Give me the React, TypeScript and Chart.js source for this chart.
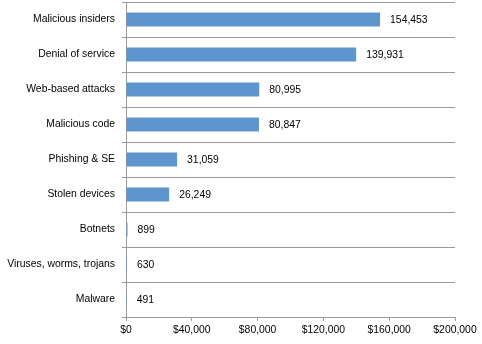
import React, { useEffect, useRef } from "react";
import { Chart, registerables } from "chart.js";

Chart.register(...registerables);

const categories = [
  "Malicious insiders",
  "Denial of service",
  "Web-based attacks",
  "Malicious code",
  "Phishing & SE",
  "Stolen devices",
  "Botnets",
  "Viruses, worms, trojans",
  "Malware",
];
const values = [154453, 139931, 80995, 80847, 31059, 26249, 899, 630, 491];
const xTicks = [0, 40000, 80000, 120000, 160000, 200000];

const FONT_FAMILY = "'Liberation Sans', Arial, sans-serif";
const FONT_SIZE = 10.4;

const valueLabels = {
  id: "valueLabels",
  afterDatasetsDraw(chart: any) {
    const ctx = chart.ctx;
    const meta = chart.getDatasetMeta(0);
    ctx.save();
    ctx.font = `${FONT_SIZE}px ${FONT_FAMILY}`;
    ctx.fillStyle = "#000000";
    ctx.textAlign = "left";
    ctx.textBaseline = "middle";
    meta.data.forEach((bar: any, i: number) => {
      ctx.fillText(values[i].toLocaleString("en-US"), bar.x + 10, bar.y + 0.5);
    });
    ctx.restore();
  },
};

export default function App() {
  const ref = useRef<HTMLCanvasElement | null>(null);
  useEffect(() => {
    if (!ref.current) return;
    const font = { family: FONT_FAMILY, size: FONT_SIZE };
    const chart = new Chart(ref.current, {
      type: "bar",
      data: {
        labels: categories,
        datasets: [
          {
            data: values,
            backgroundColor: "#5F95CD",
            borderWidth: 0,
            categoryPercentage: 1,
            barPercentage: 0.4,
          },
        ],
      },
      plugins: [valueLabels],
      options: {
        indexAxis: "y",
        animation: false,
        responsive: false,
        maintainAspectRatio: false,
        layout: { padding: { top: 2, right: 27, bottom: 0, left: 0 } },
        plugins: { legend: { display: false }, tooltip: { enabled: false } },
        scales: {
          x: {
            min: 0,
            max: 200000,
            afterBuildTicks: (scale: any) => {
              scale.ticks = xTicks.map((v) => ({ value: v }));
            },
            afterFit: (scale: any) => {
              scale.height = 27;
              scale.paddingLeft = 0;
              scale.paddingRight = 0;
            },
            grid: {
              drawOnChartArea: false,
              drawTicks: true,
              tickLength: 4,
              color: "#9a9a9a",
            },
            border: { color: "#9a9a9a" },
            ticks: {
              padding: 3,
              color: "#000000",
              font,
              maxRotation: 0,
              callback: (v: any) => "$" + Number(v).toLocaleString("en-US"),
            },
          },
          y: {
            afterFit: (scale: any) => {
              scale.width = 126;
              scale.paddingTop = 0;
              scale.paddingBottom = 0;
            },
            grid: {
              offset: true,
              color: "#9a9a9a",
              tickLength: 4,
            },
            border: { color: "#9a9a9a" },
            ticks: { padding: 7, color: "#000000", font },
          },
        },
      },
    });
    return () => chart.destroy();
  }, []);
  return (
    <div style={{ position: "fixed", left: 0, top: 0, width: 482, height: 344, background: "#fff" }}>
      <canvas ref={ref} width={482} height={344} style={{ width: 482, height: 344 }} />
    </div>
  );
}
